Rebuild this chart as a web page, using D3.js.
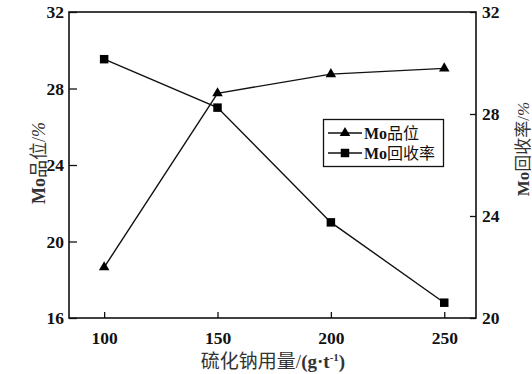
<!DOCTYPE html>
<html>
<head>
<meta charset="utf-8">
<script src="https://cdn.jsdelivr.net/npm/d3@7/dist/d3.min.js"></script>
<style>
  body { margin: 0; background: #fff; }
  svg { display: block; }
  .tick text { font-family: "Liberation Serif", "Times New Roman", serif; font-weight: bold; font-size: 17.5px; fill: #111; }
</style>
</head>
<body>
<svg id="chart" width="532" height="374"></svg>
<script>
// Sodium sulfide dosage (g/t)
const dosage = [100, 150, 200, 250];
// Mo grade (%), left axis
const moGrade = [18.65, 27.75, 28.75, 29.05];
// Mo recovery (%), right axis
const moRecovery = [30.15, 28.25, 23.75, 20.6];
const xTicks = [100, 150, 200, 250];
const leftTicks = [16, 20, 24, 28, 32];
const rightTicks = [20, 24, 28, 32];

const svg = d3.select("#chart");
const L = 69, R = 476, T = 12, B = 318;

const x = d3.scaleLinear().domain([84.5, 264]).range([L, R]);
const yL = d3.scaleLinear().domain([16, 32]).range([B, T]);
const yR = d3.scaleLinear().domain([20, 32]).range([B, T]);

// axes with inward ticks
const gx = svg.append("g").attr("transform", `translate(0,${B})`)
  .call(d3.axisBottom(x).tickValues(xTicks).tickSizeInner(-6).tickSizeOuter(0).tickPadding(14));
const gl = svg.append("g").attr("transform", `translate(${L},0)`)
  .call(d3.axisLeft(yL).tickValues(leftTicks).tickSizeInner(-8).tickSizeOuter(0).tickPadding(6));
const gr = svg.append("g").attr("transform", `translate(${R},0)`)
  .call(d3.axisRight(yR).tickValues(rightTicks).tickSizeInner(-6).tickSizeOuter(0).tickPadding(6));
[gx, gl, gr].forEach(g => {
  g.select(".domain").remove();
  g.selectAll(".tick line").attr("stroke", "#111").attr("stroke-width", 1.3);
});
gl.selectAll(".tick text").attr("dx", "1");

// frame
svg.append("rect").attr("x", L).attr("y", T).attr("width", R - L).attr("height", B - T)
  .attr("fill", "none").attr("stroke", "#111").attr("stroke-width", 1.6);

const tri = d3.symbol().type(d3.symbolTriangle).size(48);
const sq = d3.symbol().type(d3.symbolSquare).size(72);

// grade series
svg.append("path").datum(dosage.map((d, i) => [x(d), yL(moGrade[i])]))
  .attr("d", d3.line()).attr("fill", "none").attr("stroke", "#111").attr("stroke-width", 1.4);
svg.selectAll(".tri").data(dosage).join("path")
  .attr("transform", (d, i) => `translate(${x(d)},${yL(moGrade[i])})`)
  .attr("d", tri).attr("fill", "#000");

// recovery series
svg.append("path").datum(dosage.map((d, i) => [x(d), yR(moRecovery[i])]))
  .attr("d", d3.line()).attr("fill", "none").attr("stroke", "#111").attr("stroke-width", 1.4);
svg.selectAll(".sq").data(dosage).join("path")
  .attr("transform", (d, i) => `translate(${x(d)},${yR(moRecovery[i])})`)
  .attr("d", sq).attr("fill", "#000");

// legend
const lg = svg.append("g");
lg.append("rect").attr("x", 323.5).attr("y", 119.5).attr("width", 120).attr("height", 47)
  .attr("fill", "#fff").attr("stroke", "#111").attr("stroke-width", 1.3);
const items = [{label: "品位", sym: tri, y: 133}, {label: "回收率", sym: sq, y: 153}];
items.forEach(it => {
  lg.append("line").attr("x1", 328).attr("x2", 362).attr("y1", it.y).attr("y2", it.y)
    .attr("stroke", "#111").attr("stroke-width", 1.4);
  lg.append("path").attr("transform", `translate(345,${it.y})`).attr("d", it.sym).attr("fill", "#000");
  const t = lg.append("text").attr("x", 364).attr("y", it.y + 5.5)
    .style("font-family", "'Liberation Serif', 'Noto Sans CJK SC', serif").style("font-size", "16px").attr("fill", "#111");
  t.append("tspan").text("Mo").style("font-weight", "bold");
  t.append("tspan").text(it.label);
});

// axis titles
const titleFont = "'Liberation Serif', 'Noto Sans CJK SC', serif";
const xt = svg.append("text").attr("x", 273).attr("y", 368).attr("text-anchor", "middle")
  .style("font-family", titleFont).style("font-size", "19px").attr("fill", "#333");
xt.append("tspan").text("硫化钠用量/");
xt.append("tspan").text("(g·t").style("font-weight", "bold");
xt.append("tspan").text("-1").attr("dy", -7).style("font-size", "11px").style("font-weight", "bold");
xt.append("tspan").text(")").attr("dy", 7).style("font-weight", "bold");

function yTitle(cx, cy, label, size) {
  const t = svg.append("text").attr("transform", `translate(${cx},${cy}) rotate(-90)`)
    .attr("text-anchor", "middle").style("font-family", titleFont).style("font-size", size + "px").attr("fill", "#333");
  t.append("tspan").text("Mo").style("font-weight", "bold");
  t.append("tspan").text(label + "/");
  t.append("tspan").text("%").style("font-style", "italic");
}
yTitle(45, 163, "品位", 18);
yTitle(529, 149, "回收率", 17);
</script>
</body>
</html>
